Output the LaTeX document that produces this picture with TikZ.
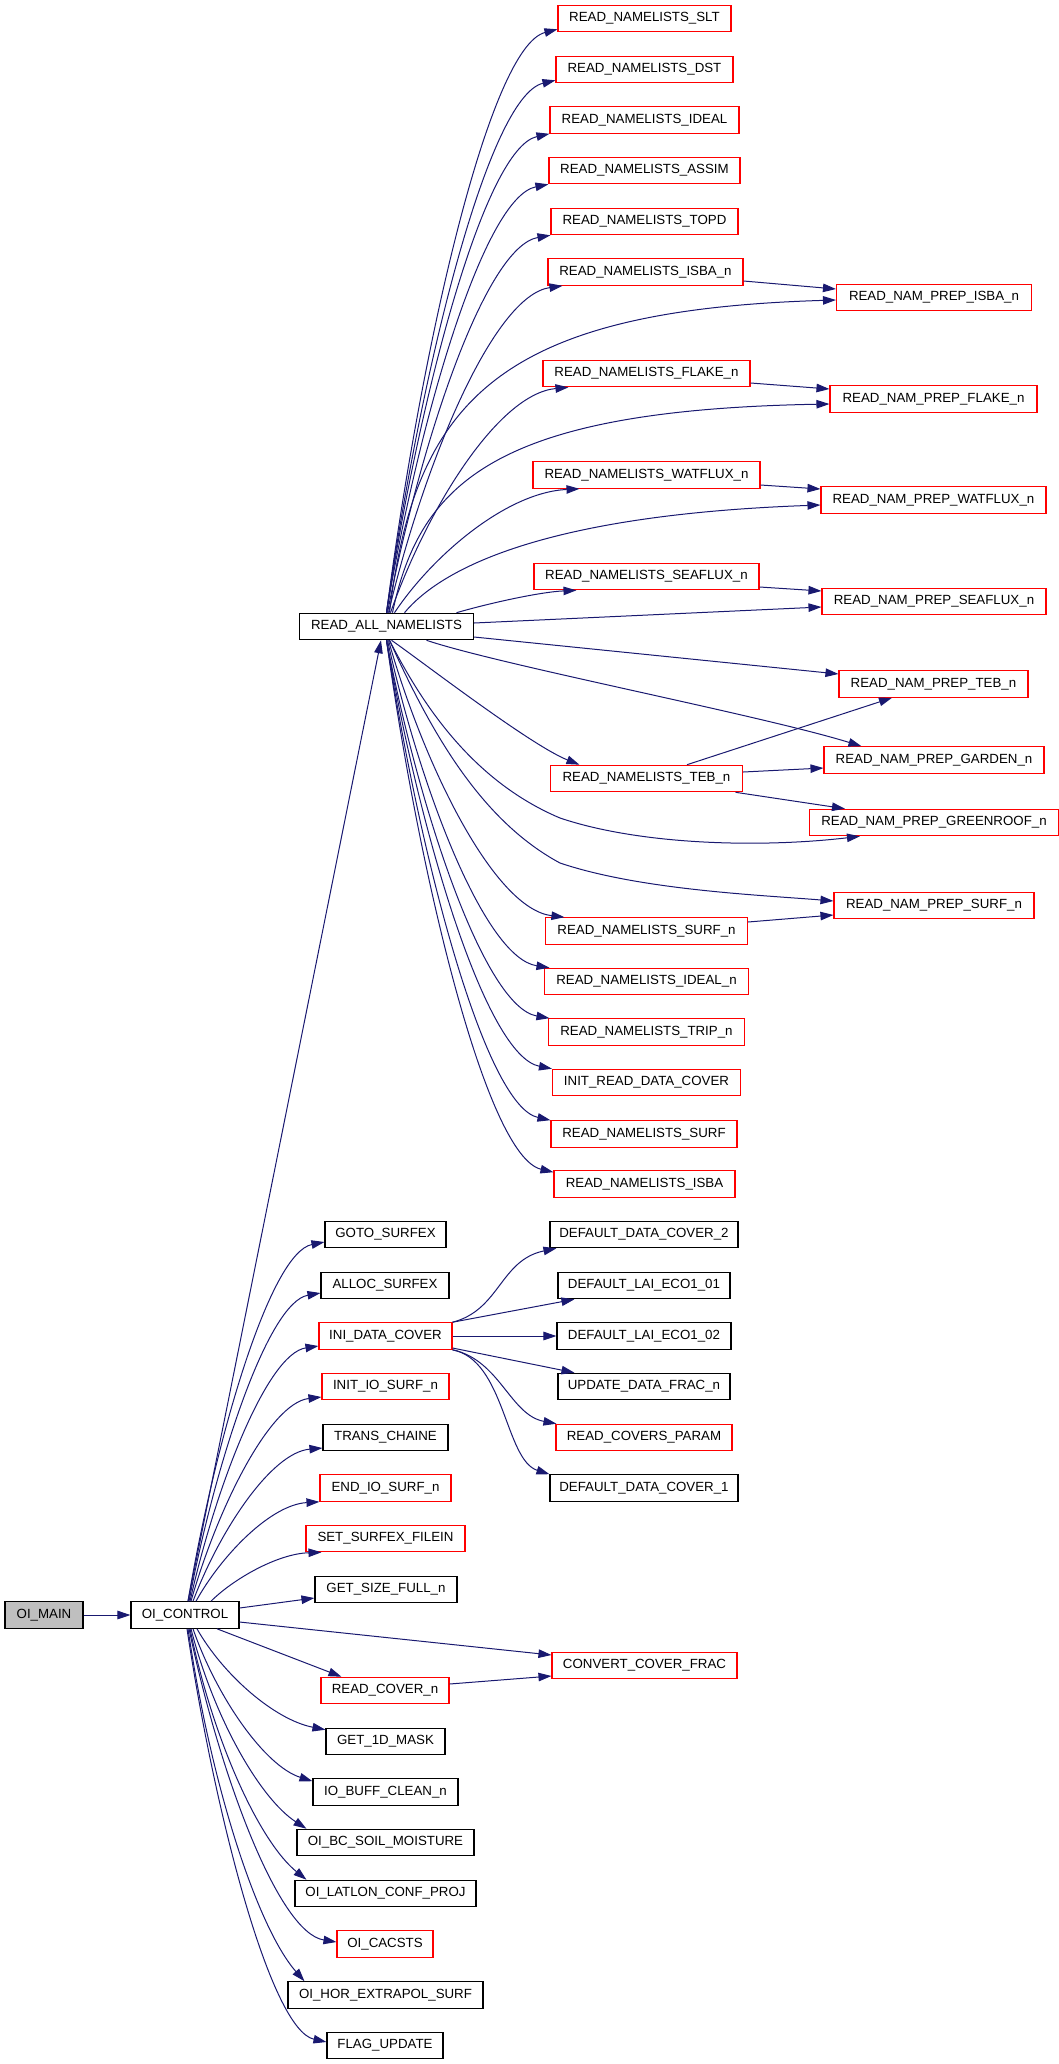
\documentclass[tikz,border=0pt]{standalone}
\usepackage{fontspec}
\setmainfont{Liberation Sans}
\usetikzlibrary{arrows.meta,calc}
\definecolor{edgeblue}{RGB}{25,25,112}
\definecolor{boxred}{RGB}{255,0,0}
\definecolor{boxgrey}{RGB}{191,191,191}
\newcommand\fanedge[3][0.97]{\draw[conn] let \p1=#2, \p2=#3 in (\p1) .. controls ({\x1+0.2*(\x2-\x1)},{\y1+0.45*(\y2-\y1)}) and ({\x1+0.6*(\x2-\x1)},{\y1+#1*(\y2-\y1)}) .. (\p2);}
\tikzset{
  box/.style={draw, line width=1.1pt, inner sep=0pt, minimum height=26.5pt,
    font=\fontsize{13.3pt}{16pt}\selectfont, text=black},
  rbox/.style={box, draw=boxred},
  bbox/.style={box, draw=black},
  gbox/.style={box, draw=black, fill=boxgrey},
  conn/.style={draw=edgeblue, line width=1pt, -{Triangle[length=13pt,width=8.5pt]}},
}
\begin{document}
\begin{tikzpicture}[x=1pt,y=-1pt]
\useasboundingbox (0,0) rectangle (1059,2064);
% nodes
\node[rbox, minimum width=173pt] (slt) at (644.5,18.5) {READ\_NAMELISTS\_SLT};
\node[rbox, minimum width=177pt] (dst) at (644.5,69.5) {READ\_NAMELISTS\_DST};
\node[rbox, minimum width=189pt] (ideal) at (644.5,120) {READ\_NAMELISTS\_IDEAL};
\node[rbox, minimum width=191pt] (assim) at (644.5,170.5) {READ\_NAMELISTS\_ASSIM};
\node[rbox, minimum width=187pt] (topd) at (644.5,221.5) {READ\_NAMELISTS\_TOPD};
\node[rbox, minimum width=195pt] (isban) at (645.5,272) {READ\_NAMELISTS\_ISBA\_n};
\node[rbox, minimum width=195pt] (pisba) at (934,297.5) {READ\_NAM\_PREP\_ISBA\_n};
\node[rbox, minimum width=207pt] (flaken) at (646.5,373.5) {READ\_NAMELISTS\_FLAKE\_n};
\node[rbox, minimum width=207pt] (pflake) at (933.5,399) {READ\_NAM\_PREP\_FLAKE\_n};
\node[rbox, minimum width=227pt] (watn) at (646.5,475) {READ\_NAMELISTS\_WATFLUX\_n};
\node[rbox, minimum width=225pt] (pwat) at (933.5,500) {READ\_NAM\_PREP\_WATFLUX\_n};
\node[rbox, minimum width=225pt] (sean) at (646.5,576.5) {READ\_NAMELISTS\_SEAFLUX\_n};
\node[rbox, minimum width=224pt] (psea) at (934,601.5) {READ\_NAM\_PREP\_SEAFLUX\_n};
\node[bbox, minimum width=174pt] (ran) at (386.5,626.5) {READ\_ALL\_NAMELISTS};
\node[rbox, minimum width=189pt] (pteb) at (933.5,684) {READ\_NAM\_PREP\_TEB\_n};
\node[rbox, minimum width=220pt] (pgarden) at (934,760) {READ\_NAM\_PREP\_GARDEN\_n};
\node[rbox, minimum width=192pt] (tebn) at (646.5,778.5) {READ\_NAMELISTS\_TEB\_n};
\node[rbox, minimum width=249pt] (pgreen) at (934,822.5) {READ\_NAM\_PREP\_GREENROOF\_n};
\node[rbox, minimum width=200pt] (psurf) at (934,905.5) {READ\_NAM\_PREP\_SURF\_n};
\node[rbox, minimum width=202pt] (surfn) at (646.5,931) {READ\_NAMELISTS\_SURF\_n};
\node[rbox, minimum width=204pt] (idealn) at (646.5,981.5) {READ\_NAMELISTS\_IDEAL\_n};
\node[rbox, minimum width=196pt] (tripn) at (646.5,1032) {READ\_NAMELISTS\_TRIP\_n};
\node[rbox, minimum width=188pt] (irdc) at (646.5,1082.5) {INIT\_READ\_DATA\_COVER};
\node[rbox, minimum width=186pt] (surf) at (644,1134) {READ\_NAMELISTS\_SURF};
\node[rbox, minimum width=181pt] (isba) at (644.5,1184) {READ\_NAMELISTS\_ISBA};
\node[bbox, minimum width=121pt] (goto) at (385.5,1234.5) {GOTO\_SURFEX};
\node[bbox, minimum width=188pt] (ddc2) at (644,1234.5) {DEFAULT\_DATA\_COVER\_2};
\node[bbox, minimum width=128pt] (alloc) at (385,1285.5) {ALLOC\_SURFEX};
\node[bbox, minimum width=172pt] (lai01) at (644,1285.5) {DEFAULT\_LAI\_ECO1\_01};
\node[rbox, minimum width=133pt] (idc) at (385.5,1336) {INI\_DATA\_COVER};
\node[bbox, minimum width=174pt] (lai02) at (644,1336) {DEFAULT\_LAI\_ECO1\_02};
\node[rbox, minimum width=127pt] (iios) at (385.5,1386.5) {INIT\_IO\_SURF\_n};
\node[bbox, minimum width=172pt] (udf) at (644,1386.5) {UPDATE\_DATA\_FRAC\_n};
\node[bbox, minimum width=125pt] (trans) at (385.5,1437.5) {TRANS\_CHAINE};
\node[rbox, minimum width=176pt] (rcp) at (644,1437.5) {READ\_COVERS\_PARAM};
\node[rbox, minimum width=131pt] (eios) at (385.5,1488) {END\_IO\_SURF\_n};
\node[bbox, minimum width=188pt] (ddc1) at (644,1488) {DEFAULT\_DATA\_COVER\_1};
\node[rbox, minimum width=159pt] (ssf) at (385.5,1538.5) {SET\_SURFEX\_FILEIN};
\node[bbox, minimum width=142pt] (gsf) at (386,1589.5) {GET\_SIZE\_FULL\_n};
\node[rbox, minimum width=185pt] (ccf) at (644.5,1665.5) {CONVERT\_COVER\_FRAC};
\node[rbox, minimum width=128pt] (rcn) at (385,1690.5) {READ\_COVER\_n};
\node[bbox, minimum width=119pt] (g1d) at (385.5,1741.5) {GET\_1D\_MASK};
\node[bbox, minimum width=145pt] (iobc) at (385.5,1792) {IO\_BUFF\_CLEAN\_n};
\node[bbox, minimum width=177pt] (oibc) at (385.5,1842.5) {OI\_BC\_SOIL\_MOISTURE};
\node[bbox, minimum width=181pt] (oill) at (385.5,1893.5) {OI\_LATLON\_CONF\_PROJ};
\node[rbox, minimum width=96pt] (oicac) at (385,1944) {OI\_CACSTS};
\node[bbox, minimum width=195pt] (oihor) at (385.5,1995) {OI\_HOR\_EXTRAPOL\_SURF};
\node[bbox, minimum width=116pt] (flag) at (385,2045.5) {FLAG\_UPDATE};
\node[gbox, minimum width=78pt] (oim) at (44,1615) {OI\_MAIN};
\node[bbox, minimum width=108pt] (oic) at (185,1615) {OI\_CONTROL};
% OI_MAIN -> OI_CONTROL -> READ_ALL_NAMELISTS
\draw[conn] (oim.east) -- (oic.west);
\draw[conn] ([xshift=3pt]oic.north) -- ([xshift=-5.5pt]ran.south);
% READ_ALL_NAMELISTS upper fan
\fanedge{(ran.north)}{([yshift=3pt]slt.south west)}
\fanedge{(ran.north)}{([yshift=3pt]dst.south west)}
\fanedge{(ran.north)}{(ideal.south west)}
\fanedge{(ran.north)}{(assim.south west)}
\fanedge{([xshift=1pt]ran.north)}{(topd.south west)}
\fanedge{([xshift=2pt]ran.north)}{([xshift=15pt]isban.south west)}
\fanedge{([xshift=4pt]ran.north)}{([xshift=26pt]flaken.south west)}
\fanedge{([xshift=8pt]ran.north)}{([xshift=47pt]watn.south west)}
\draw[conn] ([xshift=3pt]ran.north) .. controls (415,400) and (500,310) .. ([yshift=-2.5pt]pisba.west);
\draw[conn] ([xshift=6pt]ran.north) .. controls (420,480) and (500,410) .. ([yshift=-5pt]pflake.west);
\draw[conn] ([xshift=18pt]ran.north) .. controls (440,570) and (540,515) .. ([yshift=-5pt]pwat.west);
\draw[conn] ([xshift=70pt]ran.north) .. controls (490,603) and (540,592) .. ([xshift=43pt]sean.south west);
\draw[conn] ([yshift=3.5pt]ran.east) -- ([yshift=-5.5pt]psea.west);
\draw[conn] ([yshift=-10.5pt]ran.east) -- ([yshift=10pt]pteb.west);
\draw[conn] ([xshift=40pt]ran.south) .. controls (500,665) and (760,715) .. ([xshift=38pt]pgarden.north west);
\draw[conn] ([xshift=5pt]ran.south) .. controls (420,660) and (530,745) .. ([xshift=29.5pt]tebn.north west);
\draw[conn] ([xshift=3pt]ran.south) .. controls (420,700) and (470,780) .. (560,818) .. controls (640,845) and (760,848) .. ([xshift=51pt]pgreen.south west);
\draw[conn] ([xshift=3pt]ran.south) .. controls (430,730) and (480,820) .. (560,863) .. controls (640,890) and (760,895) .. ([yshift=4.5pt]psurf.west);
% READ_ALL_NAMELISTS lower fan
\fanedge{([xshift=2pt]ran.south)}{([xshift=19.5pt]surfn.north west)}
\fanedge{([xshift=1pt]ran.south)}{([xshift=5.5pt]idealn.north west)}
\fanedge{(ran.south)}{([xshift=1.5pt]tripn.north west)}
\fanedge{(ran.south)}{(irdc.north west)}
\fanedge{(ran.south)}{(surf.north west)}
\fanedge{(ran.south)}{([yshift=-2pt]isba.north west)}
% second level
\draw[conn] ([yshift=-9pt]isban.east) -- ([yshift=8.5pt]pisba.west);
\draw[conn] ([yshift=-9.5pt]flaken.east) -- ([yshift=10pt]pflake.west);
\draw[conn] ([yshift=-10pt]watn.east) -- ([yshift=11pt]pwat.west);
\draw[conn] ([yshift=-10.5pt]sean.east) -- ([yshift=10.5pt]psea.west);
\draw[conn] ([xshift=40.5pt]tebn.north) -- ([xshift=-41.5pt]pteb.south);
\draw[conn] ([yshift=6.5pt]tebn.east) -- ([yshift=-8pt]pgarden.west);
\draw[conn] ([xshift=-7.5pt]tebn.south east) -- ([xshift=36pt]pgreen.north west);
\draw[conn] ([yshift=9pt]surfn.east) -- ([yshift=-9.5pt]psurf.west);
% OI_CONTROL upper fan
\fanedge{([xshift=3pt]oic.north)}{([yshift=-7.5pt]goto.west)}
\fanedge{([xshift=4pt]oic.north)}{([yshift=-7.5pt]alloc.west)}
\fanedge{([xshift=5pt]oic.north)}{([yshift=-10pt]idc.west)}
\fanedge{([xshift=6pt]oic.north)}{([yshift=-10.5pt]iios.west)}
\fanedge{([xshift=8pt]oic.north)}{([yshift=-10.5pt]trans.west)}
\fanedge{([xshift=11pt]oic.north)}{(eios.south west)}
\fanedge{([xshift=26pt]oic.north)}{([xshift=16pt]ssf.south west)}
% OI_CONTROL right
\draw[conn] ([yshift=7pt]oic.east) -- ([yshift=-8.5pt]gsf.west);
\draw[conn] ([yshift=-7pt]oic.east) -- ([yshift=10.5pt]ccf.west);
\draw[conn] ([xshift=32pt]oic.south) -- ([xshift=21pt]rcn.north west);
\draw[conn] ([yshift=6.5pt]rcn.east) -- ([yshift=-10.5pt]ccf.west);
% OI_CONTROL lower fan
\fanedge[0.9]{([xshift=12pt]oic.south)}{([yshift=-2pt]g1d.north west)}
\fanedge[0.9]{([xshift=8pt]oic.south)}{([yshift=-3pt]iobc.north west)}
\fanedge[0.85]{([xshift=6pt]oic.south)}{([xshift=10pt]oibc.north west)}
\fanedge[0.85]{([xshift=5pt]oic.south)}{([xshift=12pt]oill.north west)}
\fanedge{([xshift=4pt]oic.south)}{([yshift=2pt]oicac.west)}
\fanedge[0.85]{([xshift=3pt]oic.south)}{([xshift=17pt]oihor.north west)}
\fanedge{([xshift=2pt]oic.south)}{([yshift=3.5pt]flag.west)}
% INI_DATA_COVER fan
\draw[conn] (idc.north east) .. controls (500,1310) and (500,1260) .. ([xshift=7pt]ddc2.south west);
\draw[conn] (idc.north east) -- ([xshift=17pt]lai01.south west);
\draw[conn] (idc.east) -- (lai02.west);
\draw[conn] ([yshift=-12pt]idc.east) -- ([xshift=17pt]udf.north west);
\draw[conn] (idc.south east) .. controls (500,1360) and (510,1415) .. ([xshift=1pt]rcp.north west);
\draw[conn] (idc.south east) .. controls (505,1360) and (505,1460) .. (ddc1.north west);
\end{tikzpicture}
\end{document}
